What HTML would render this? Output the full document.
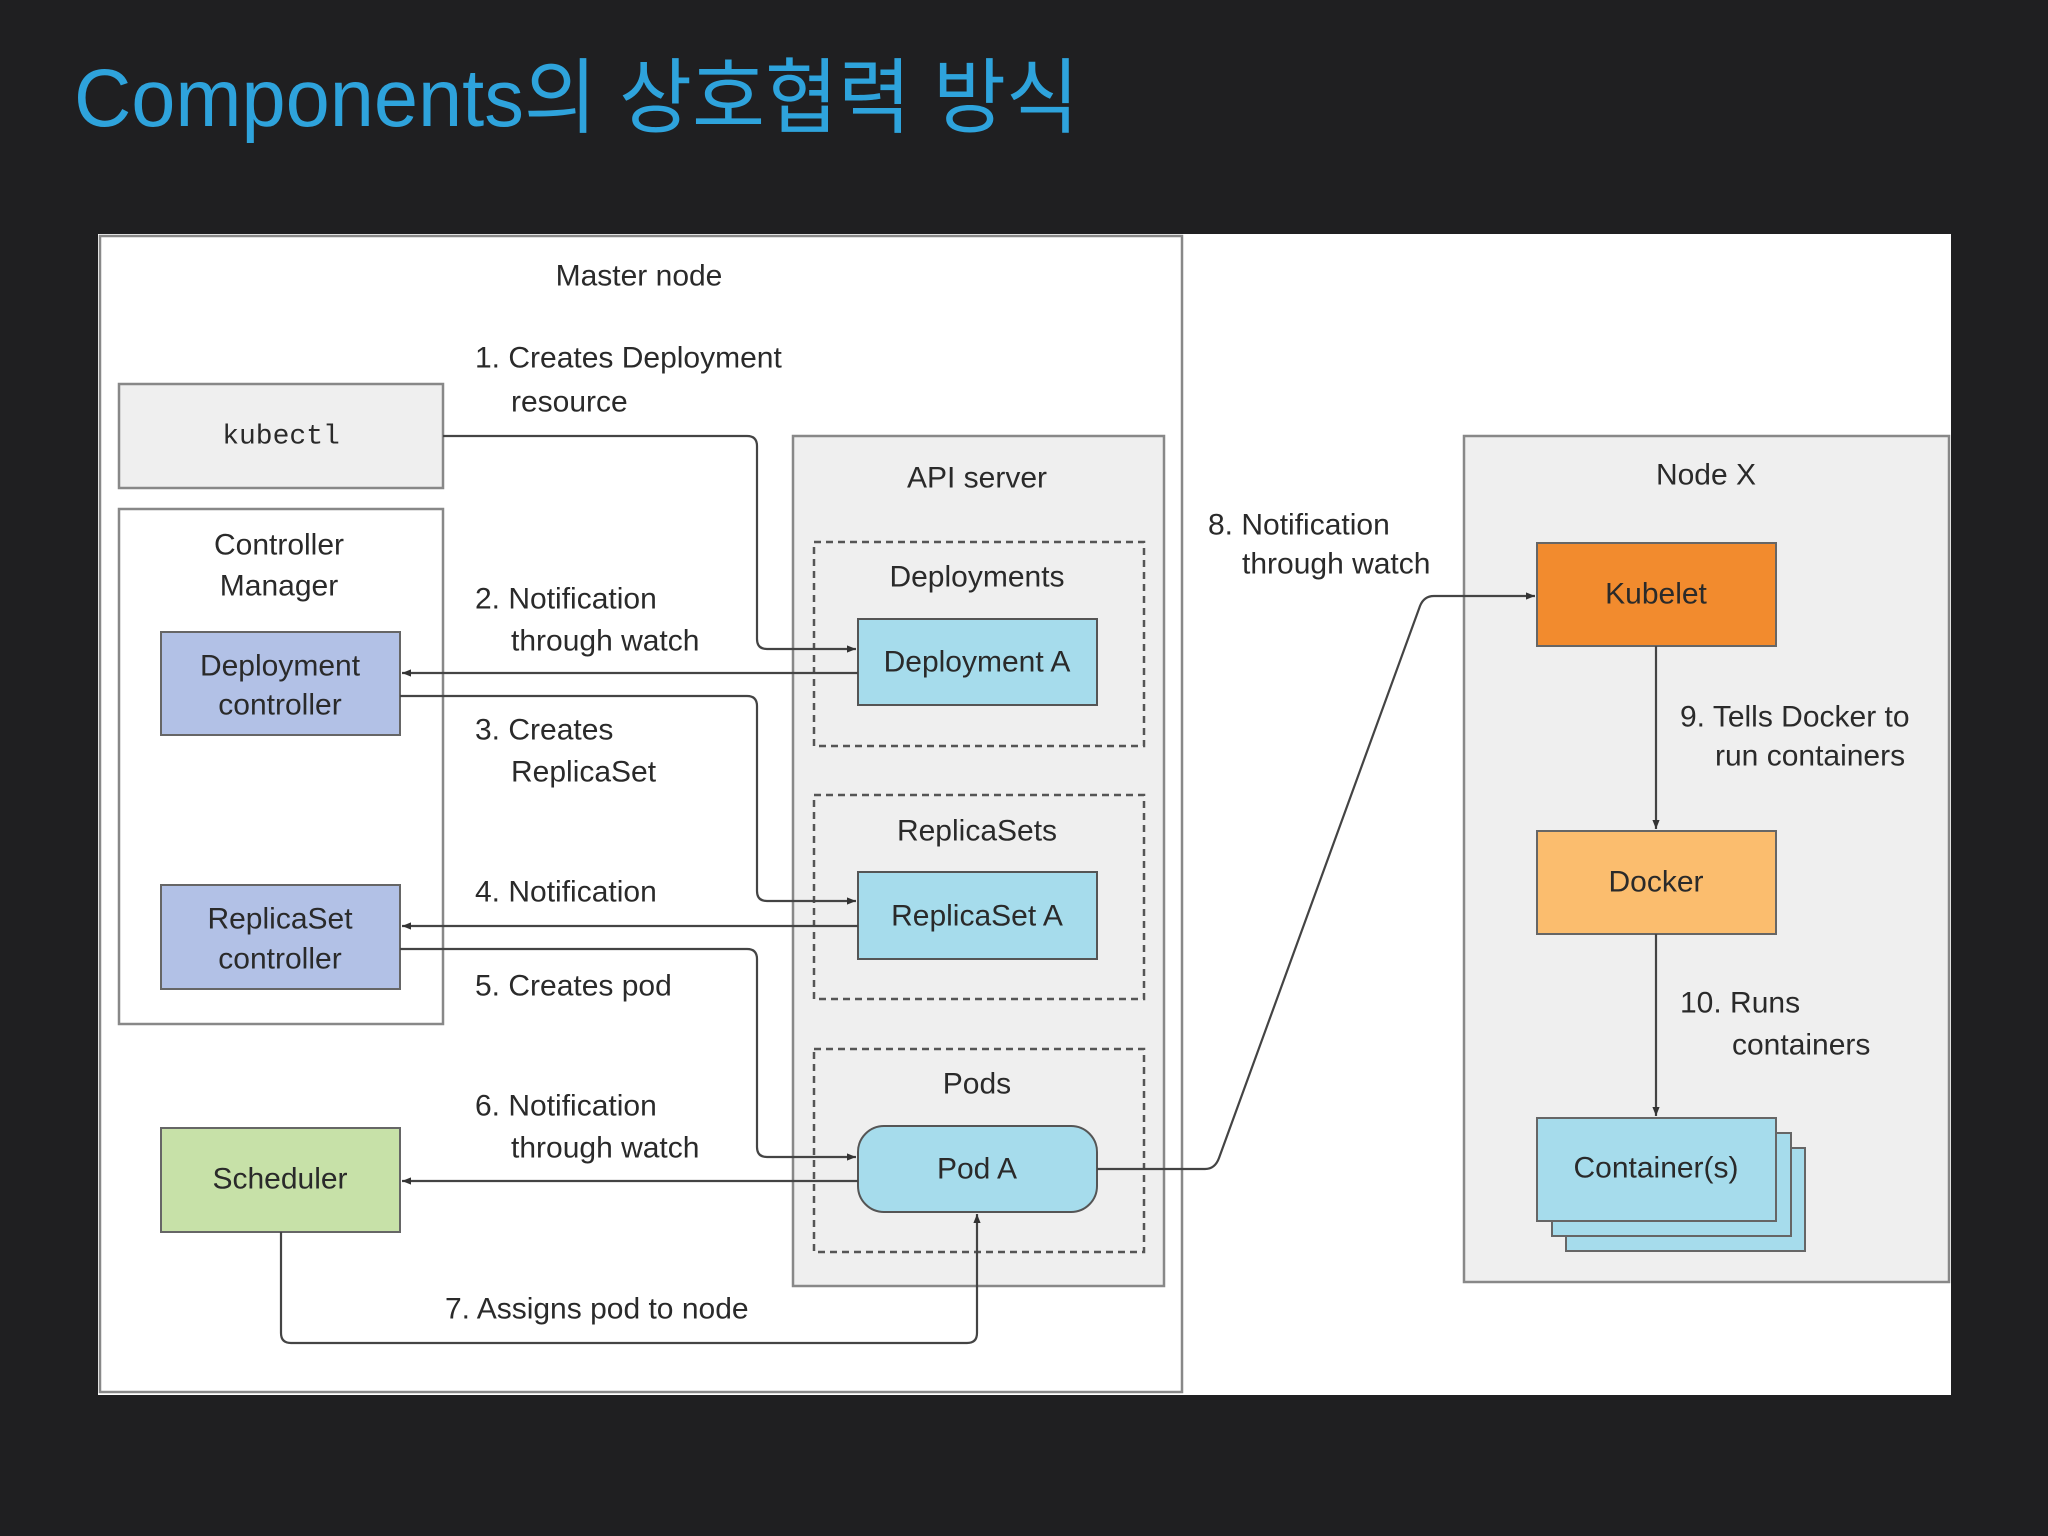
<!DOCTYPE html>
<html><head><meta charset="utf-8"><style>
html,body{margin:0;padding:0;background:#1f1f21;}
svg{display:block}
text{font-family:"Liberation Sans",sans-serif;fill:#2a2a2a;font-size:30px}
</style></head><body>
<svg width="2048" height="1536" viewBox="0 0 2048 1536" xmlns="http://www.w3.org/2000/svg">
<defs>
<marker id="a" viewBox="0 0 10 10" refX="10" refY="5" markerWidth="9" markerHeight="9" orient="auto-start-reverse" markerUnits="userSpaceOnUse"><path d="M0,1 L10,5 L0,9 z" fill="#333"/></marker>
</defs>
<rect width="2048" height="1536" fill="#1f1f21"/>
<text x="74" y="126" textLength="1005" lengthAdjust="spacingAndGlyphs" style="font-family:'Liberation Sans','Noto Sans CJK KR',sans-serif;font-size:82px;fill:#2ea3dc;font-weight:normal">Components의 상호협력 방식</text>

<rect x="98" y="234" width="1853" height="1161" fill="#fff"/>
<rect x="100" y="236" width="1082" height="1156" fill="#fff" stroke="#888" stroke-width="2.5"/>
<text x="639" y="276" text-anchor="middle" dominant-baseline="central">Master node</text>

<rect x="119" y="384" width="324" height="104" fill="#efefef" stroke="#888" stroke-width="2.5"/>
<text x="281" y="437" text-anchor="middle" dominant-baseline="central" style="font-family:'Liberation Mono',monospace;font-size:28px">kubectl</text>

<rect x="119" y="509" width="324" height="515" fill="#fff" stroke="#888" stroke-width="2.5"/>
<text x="279" y="545" text-anchor="middle" dominant-baseline="central">Controller</text>
<text x="279" y="586" text-anchor="middle" dominant-baseline="central">Manager</text>

<rect x="161" y="632" width="239" height="103" fill="#b2c1e6" stroke="#666" stroke-width="2"/>
<text x="280" y="666" text-anchor="middle" dominant-baseline="central">Deployment</text>
<text x="280" y="705" text-anchor="middle" dominant-baseline="central">controller</text>
<rect x="161" y="885" width="239" height="104" fill="#b2c1e6" stroke="#666" stroke-width="2"/>
<text x="280" y="919" text-anchor="middle" dominant-baseline="central">ReplicaSet</text>
<text x="280" y="959" text-anchor="middle" dominant-baseline="central">controller</text>
<rect x="161" y="1128" width="239" height="104" fill="#c7e1a8" stroke="#666" stroke-width="2"/>
<text x="280" y="1179" text-anchor="middle" dominant-baseline="central">Scheduler</text>

<rect x="793" y="436" width="371" height="850" fill="#efefef" stroke="#888" stroke-width="2.5"/>
<text x="977" y="478" text-anchor="middle" dominant-baseline="central">API server</text>
<g fill="none" stroke="#555" stroke-width="2.5" stroke-dasharray="7,5">
<rect x="814" y="542" width="330" height="204"/>
<rect x="814" y="795" width="330" height="204"/>
<rect x="814" y="1049" width="330" height="203"/>
</g>
<text x="977" y="577" text-anchor="middle" dominant-baseline="central">Deployments</text>
<text x="977" y="831" text-anchor="middle" dominant-baseline="central">ReplicaSets</text>
<text x="977" y="1084" text-anchor="middle" dominant-baseline="central">Pods</text>
<rect x="858" y="619" width="239" height="86" fill="#a6dcec" stroke="#555" stroke-width="2"/>
<text x="977" y="662" text-anchor="middle" dominant-baseline="central">Deployment A</text>
<rect x="858" y="872" width="239" height="87" fill="#a6dcec" stroke="#555" stroke-width="2"/>
<text x="977" y="916" text-anchor="middle" dominant-baseline="central">ReplicaSet A</text>
<rect x="858" y="1126" width="239" height="86" rx="26" fill="#a6dcec" stroke="#555" stroke-width="2"/>
<text x="977" y="1169" text-anchor="middle" dominant-baseline="central">Pod A</text>

<rect x="1464" y="436" width="485" height="846" fill="#efefef" stroke="#888" stroke-width="2.5"/>
<text x="1706" y="475" text-anchor="middle" dominant-baseline="central">Node X</text>
<rect x="1537" y="543" width="239" height="103" fill="#f28b2e" stroke="#666" stroke-width="2"/>
<text x="1656" y="594" text-anchor="middle" dominant-baseline="central">Kubelet</text>
<rect x="1537" y="831" width="239" height="103" fill="#fbbd6e" stroke="#666" stroke-width="2"/>
<text x="1656" y="882" text-anchor="middle" dominant-baseline="central">Docker</text>
<rect x="1566" y="1148" width="239" height="103" fill="#a6dcec" stroke="#666" stroke-width="2"/>
<rect x="1552" y="1133" width="239" height="103" fill="#a6dcec" stroke="#666" stroke-width="2"/>
<rect x="1537" y="1118" width="239" height="103" fill="#a6dcec" stroke="#666" stroke-width="2"/>
<text x="1656" y="1168" text-anchor="middle" dominant-baseline="central">Container(s)</text>

<g fill="none" stroke="#444" stroke-width="2.2">
<path d="M443,436 H747 Q757,436 757,446 V639 Q757,649 767,649 H856" marker-end="url(#a)"/>
<path d="M858,673 H402" marker-end="url(#a)"/>
<path d="M400,696 H747 Q757,696 757,706 V891 Q757,901 767,901 H856" marker-end="url(#a)"/>
<path d="M858,926 H402" marker-end="url(#a)"/>
<path d="M400,949 H747 Q757,949 757,959 V1147 Q757,1157 767,1157 H856" marker-end="url(#a)"/>
<path d="M858,1181 H402" marker-end="url(#a)"/>
<path d="M281,1232 V1333 Q281,1343 291,1343 H967 Q977,1343 977,1333 V1214" marker-end="url(#a)"/>
<path d="M1097,1169 H1205 Q1215,1169 1219,1158 L1420,606 Q1424,596 1434,596 H1535" marker-end="url(#a)"/>
<path d="M1656,646 V829" marker-end="url(#a)"/>
<path d="M1656,934 V1116" marker-end="url(#a)"/>
</g>

<g>
<text x="475" y="358" dominant-baseline="central">1. Creates Deployment</text>
<text x="511" y="402" dominant-baseline="central">resource</text>
<text x="475" y="599" dominant-baseline="central">2. Notification</text>
<text x="511" y="641" dominant-baseline="central">through watch</text>
<text x="475" y="730" dominant-baseline="central">3. Creates</text>
<text x="511" y="772" dominant-baseline="central">ReplicaSet</text>
<text x="475" y="892" dominant-baseline="central">4. Notification</text>
<text x="475" y="986" dominant-baseline="central">5. Creates pod</text>
<text x="475" y="1106" dominant-baseline="central">6. Notification</text>
<text x="511" y="1148" dominant-baseline="central">through watch</text>
<text x="445" y="1309" dominant-baseline="central">7. Assigns pod to node</text>
<text x="1208" y="525" dominant-baseline="central">8. Notification</text>
<text x="1242" y="564" dominant-baseline="central">through watch</text>
<text x="1680" y="717" dominant-baseline="central">9. Tells Docker to</text>
<text x="1715" y="756" dominant-baseline="central">run containers</text>
<text x="1680" y="1003" dominant-baseline="central">10. Runs</text>
<text x="1732" y="1045" dominant-baseline="central">containers</text>
</g>
</svg>
</body></html>
